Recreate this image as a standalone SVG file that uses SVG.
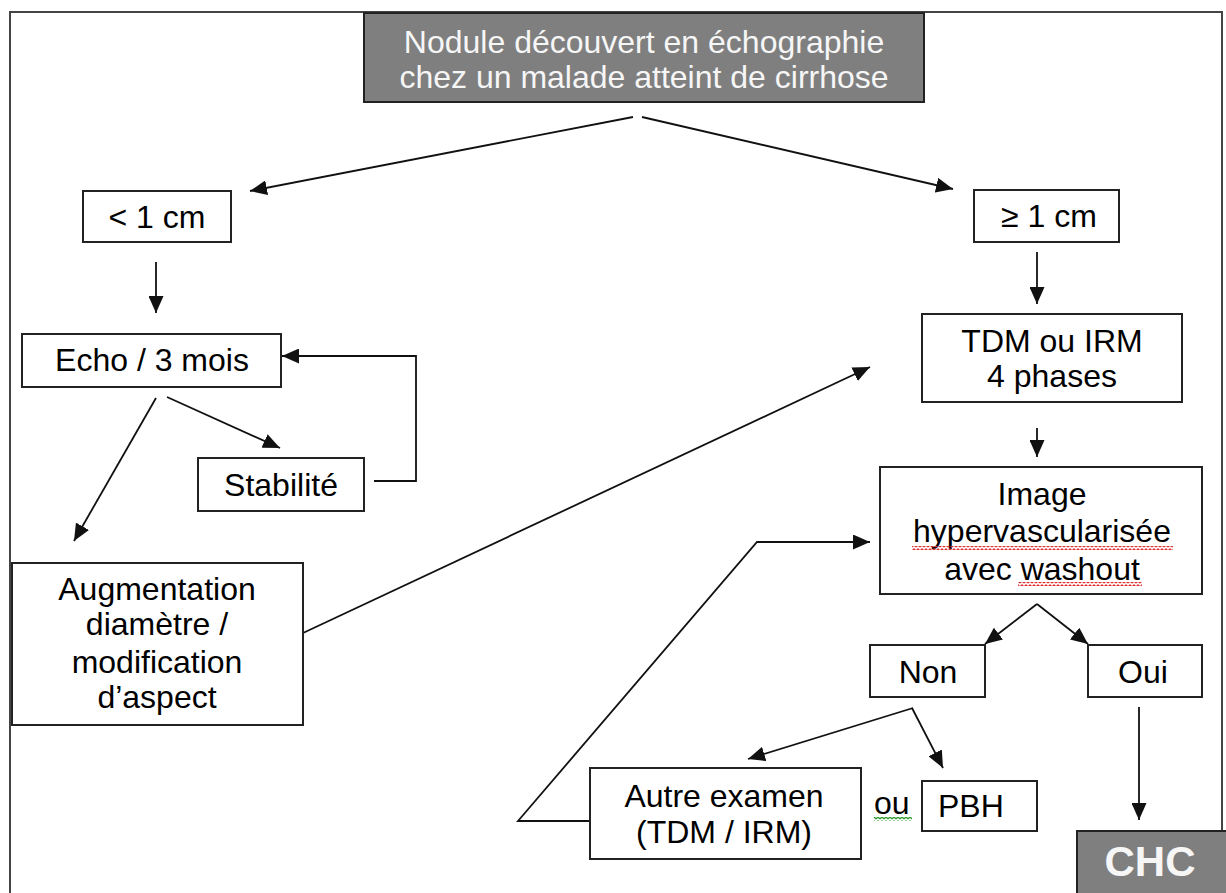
<svg xmlns="http://www.w3.org/2000/svg" width="1226" height="893" viewBox="0 0 1226 893">
<style>
.box{fill:#fff;stroke:#222;stroke-width:2}
.dark{fill:#7f7f7f;stroke:#222;stroke-width:2}
.t{font-family:"Liberation Sans",Arial,sans-serif;font-size:32px;fill:#000;text-anchor:middle}
.w{fill:#f6f6f6}
.c{fill:none;stroke:#111;stroke-width:1.8}
.a{marker-end:url(#arr)}
</style>
<defs>
<marker id="arr" markerUnits="userSpaceOnUse" markerWidth="18" markerHeight="15" refX="17" refY="7.5" orient="auto" viewBox="0 0 18 15">
<path d="M0,0 L17,7.5 L0,15 z" fill="#111"/>
</marker>
<pattern id="redw" patternUnits="userSpaceOnUse" width="4" height="4">
<path d="M0,3 L2,1 L4,3" fill="none" stroke="#e03030" stroke-width="1.3"/>
</pattern>
<pattern id="grnw" patternUnits="userSpaceOnUse" width="4" height="4">
<path d="M0,3 L2,1 L4,3" fill="none" stroke="#2f9a2f" stroke-width="1.3"/>
</pattern>
</defs>
<rect x="0" y="0" width="1226" height="893" fill="#fff"/>
<rect id="frame" x="10" y="12" width="1212" height="900" fill="none" stroke="#444" stroke-width="2"/>

<g id="connectors">
<line class="c a" x1="633" y1="117" x2="250" y2="191"/>
<line class="c a" x1="642" y1="117" x2="953" y2="189"/>
<line class="c a" x1="156" y1="262" x2="156" y2="313"/>
<line class="c a" x1="1037" y1="252" x2="1037" y2="304"/>
<line class="c a" x1="167" y1="397" x2="280" y2="448"/>
<line class="c a" x1="156" y1="398" x2="74" y2="541"/>
<polyline class="c a" points="374,481 416,481 416,356 282,356"/>
<line class="c a" x1="303" y1="633" x2="870" y2="367"/>
<line class="c a" x1="1037" y1="428" x2="1037" y2="457"/>
<line class="c a" x1="1037" y1="604" x2="985" y2="644"/>
<line class="c a" x1="1037" y1="604" x2="1088" y2="644"/>
<line class="c a" x1="1139" y1="707" x2="1139" y2="820"/>
<line class="c a" x1="913" y1="708" x2="748" y2="759"/>
<line class="c a" x1="912" y1="708" x2="943" y2="768"/>
<polyline class="c a" points="590,821 518,821 757,542 870,542"/>
</g>

<g id="n-top">
<rect class="dark" x="364" y="13" width="560" height="89"/>
<text class="t w" x="644" y="53">Nodule découvert en échographie</text>
<text class="t w" x="644" y="88">chez un malade atteint de cirrhose</text>
</g>
<g id="n-lt1">
<rect class="box" x="83" y="191" width="148" height="51"/>
<text class="t" x="157" y="228">&lt; 1 cm</text>
</g>
<g id="n-ge1">
<rect class="box" x="974" y="190" width="145" height="52"/>
<text class="t" x="1049" y="227">≥ 1 cm</text>
</g>
<g id="n-echo">
<rect class="box" x="22" y="334" width="259" height="53"/>
<text class="t" x="152" y="371">Echo / 3 mois</text>
</g>
<g id="n-stab">
<rect class="box" x="198" y="458" width="166" height="53"/>
<text class="t" x="281" y="496">Stabilité</text>
</g>
<g id="n-aug">
<rect class="box" x="12" y="563" width="291" height="162"/>
<text class="t" x="157" y="600">Augmentation</text>
<text class="t" x="157" y="635">diamètre /</text>
<text class="t" x="157" y="673">modification</text>
<text class="t" x="157" y="708">d’aspect</text>
</g>
<g id="n-tdm">
<rect class="box" x="922" y="314" width="260" height="88"/>
<text class="t" x="1052" y="352">TDM ou IRM</text>
<text class="t" x="1052" y="387">4 phases</text>
</g>
<g id="n-image">
<rect class="box" x="880" y="467" width="322" height="127"/>
<text class="t" x="1042" y="505">Image</text>
<text class="t" x="1042" y="542">hypervascularisée</text>
<text class="t" x="1042" y="580">avec washout</text>
<rect x="912" y="546" width="261" height="4" fill="url(#redw)"/>
<rect x="1018" y="582" width="124" height="4" fill="url(#redw)"/>
</g>
<g id="n-non">
<rect class="box" x="870" y="645" width="115" height="52"/>
<text class="t" x="928" y="683">Non</text>
</g>
<g id="n-oui">
<rect class="box" x="1088" y="645" width="114" height="52"/>
<text class="t" x="1143" y="683">Oui</text>
</g>
<g id="n-autre">
<rect class="box" x="590" y="768" width="271" height="91"/>
<text class="t" x="724" y="807">Autre examen</text>
<text class="t" x="724" y="843">(TDM / IRM)</text>
</g>
<g id="n-ou">
<text class="t" x="874" y="814" style="text-anchor:start">ou</text>
<rect x="874" y="817" width="38" height="4" fill="url(#grnw)"/>
</g>
<g id="n-pbh">
<rect class="box" x="922" y="781" width="115" height="50"/>
<text class="t" x="938" y="817" style="text-anchor:start">PBH</text>
</g>
<g id="n-chc">
<rect class="dark" x="1077" y="831" width="160" height="80"/>
<text class="t w" x="1150" y="876" style="font-weight:bold;font-size:42px">CHC</text>
</g>
</svg>
